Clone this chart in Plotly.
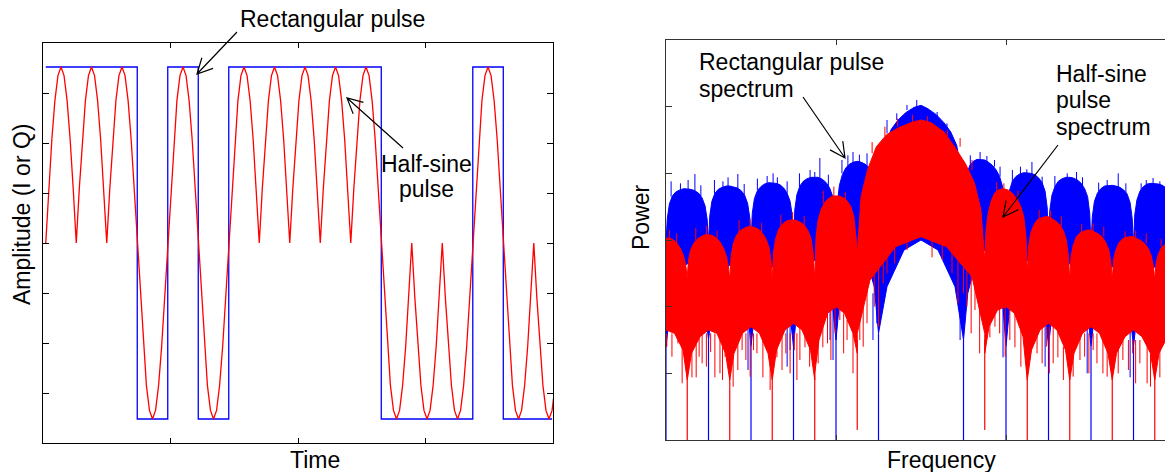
import math
import plotly.graph_objects as go

W, H = 1165, 472

# ---------------- left panel: baseband waveforms ----------------
bits = [1, 1, 1, -1, 1, -1, 1, 1, 1, 1, 1, -1, -1, -1, 1, -1, -1]
pulse_amplitude = 0.88
half_sine_samples = [0.0, 0.309, 0.588, 0.809, 0.951, 1.0, 0.951, 0.809, 0.588, 0.309, 0.0]
record_end = 16.6
time_range = [-0.09, 16.63]
amp_range = [-1.0, 1.0]
amp_ticks = [-1.0, -0.75, -0.5, -0.25, 0.0, 0.25, 0.5, 0.75, 1.0]

# ---------------- right panel: power spectra (dB) ----------------
freq_range = [-6.0, 5.741]
freq_ticks = [-6, -2, 2, 6]
power_range = [-60, 0]
power_ticks = [-60, -50, -40, -30, -20, -10, 0]

upper_frac = [0.0, 0.03, 0.08, 0.15, 0.23, 0.32, 0.42, 0.5, 0.58, 0.68, 0.77, 0.85, 0.92, 0.97, 1.0]
lower_frac = [0.0, 0.1, 0.3, 0.5, 0.7, 0.9, 1.0]

# rectangular-pulse spectrum: lobe envelopes
rect_lobe_edges = [-6, -5, -4, -3, -2, -1, 1, 2, 3, 4, 5, 6]
rect_lobe_upper = [
    [-30.5, -26.8, -24.6, -23.4, -22.8, -22.5, -22.3, -22.3, -22.4, -22.6, -23.0, -23.7, -24.9, -27.0, -30.5],
    [-30.5, -26.4, -24.2, -23.0, -22.4, -22.1, -21.9, -21.9, -22.0, -22.2, -22.6, -23.3, -24.5, -26.6, -30.8],
    [-30.8, -26.0, -23.8, -22.6, -22.0, -21.6, -21.4, -21.4, -21.5, -21.7, -22.2, -23.0, -24.2, -26.3, -31.0],
    [-31.0, -25.5, -23.2, -21.9, -21.2, -20.8, -20.6, -20.6, -20.6, -20.9, -21.4, -22.2, -23.4, -25.6, -31.0],
    [-31.0, -24.6, -21.8, -20.2, -19.2, -18.6, -18.3, -18.2, -18.3, -18.6, -19.1, -19.9, -21.2, -24.0, -30.0],
    [-28.0, -19.5, -15.6, -13.4, -12.0, -10.9, -10.1, -9.8, -10.3, -11.2, -12.4, -13.8, -15.8, -19.5, -28.0],
    [-29.5, -22.6, -20.0, -18.8, -18.2, -17.9, -17.9, -18.0, -18.3, -18.8, -19.5, -20.5, -22.0, -25.0, -30.5],
    [-30.5, -25.0, -22.6, -21.2, -20.5, -20.1, -19.9, -19.9, -20.0, -20.2, -20.7, -21.4, -22.7, -25.2, -30.8],
    [-30.8, -25.6, -23.3, -22.0, -21.2, -20.8, -20.6, -20.6, -20.7, -21.0, -21.5, -22.3, -23.5, -26.0, -31.0],
    [-31.0, -26.6, -24.2, -23.0, -22.3, -21.9, -21.8, -21.8, -21.9, -22.1, -22.5, -23.1, -24.4, -26.8, -31.0],
    [-31.0, -26.2, -24.0, -22.7, -22.0, -21.6, -21.5, -21.5, -21.6, -21.8, -22.2, -22.9, -24.0, -26.5, -30.5],
]
rect_lobe_lower = [
    [-46, -40, -35, -33.5, -35, -39, -45],
    [-45, -39.5, -35, -33.8, -34.5, -39, -46],
    [-46, -40, -35.5, -34, -35, -40, -46],
    [-46, -39, -34.5, -33, -34, -38.5, -45],
    [-45, -38, -33, -31.5, -32.5, -37, -44],
    [-44, -37, -31.5, -30, -31.5, -37, -45],
    [-45, -38, -33, -31.5, -33, -37.5, -46],
    [-46, -39, -34.5, -33, -34.5, -39, -46],
    [-46, -40, -35, -33.5, -35, -39.5, -46],
    [-46, -40, -35, -34, -35, -40, -46],
    [-46, -40, -35.5, -34, -35, -40, -46],
]
rect_null_freq = [-6, -5, -4, -3, -2, -1, 1, 2, 3, 4, 5]
rect_null_top = [-44, -45, -46, -45, -44, -44, -45, -46, -46, -46, -46]
rect_null_floor = [-60, -60, -60, -60, -60, -60, -60, -60, -60, -60, -60]
# narrow peaks rising above the envelope
rect_peak_freq = [-5.88, -5.66, -5.48, -5.32, -5.18, -4.86, -4.66, -4.54, -4.31, -4.16,
                  -3.85, -3.62, -3.48, -3.38, -3.15, -2.86, -2.61, -2.50, -2.38, -2.18,
                  -1.86, -1.72, -1.60, -1.45, -1.27, -0.80, -0.57, -0.33, -0.10, 0.14, 0.38, 0.61,
                  1.16, 1.39, 1.55, 1.73, 1.86, 2.15, 2.34, 2.49, 2.61, 2.85,
                  3.15, 3.44, 3.66, 3.80, 4.18, 4.38, 4.64, 4.82, 5.18, 5.30, 5.46, 5.62]
rect_peak_base = [-23.5, -23.0, -23.0, -23.0, -23.5, -23.0, -22.5, -22.5, -22.5, -23.5,
                  -22.5, -22.0, -22.0, -22.0, -23.0, -22.0, -21.0, -21.0, -21.0, -22.0,
                  -20.0, -19.0, -18.5, -18.5, -19.5, -14.0, -12.0, -10.5, -10.0, -10.5, -12.0, -13.5,
                  -19.5, -18.5, -18.5, -19.0, -20.5, -21.5, -20.5, -20.5, -20.5, -22.0,
                  -22.0, -21.0, -21.0, -22.0, -23.0, -22.3, -22.3, -23.0, -22.8, -22.0, -22.0, -22.5]
rect_peak_tip = [-21.2, -21.5, -21.0, -20.1, -21.8, -21.0, -21.2, -20.6, -20.1, -21.6,
                 -20.8, -20.4, -20.0, -20.6, -21.2, -20.0, -19.5, -19.8, -17.7, -20.2,
                 -18.0, -17.3, -16.8, -17.2, -17.0, -12.0, -11.0, -9.75, -9.0, -10.2, -10.8, -12.5,
                 -17.3, -16.8, -17.4, -18.0, -19.0, -19.5, -19.0, -19.4, -18.3, -20.5,
                 -20.4, -20.0, -19.8, -20.6, -21.4, -21.0, -20.0, -21.5, -21.5, -21.0, -20.7, -21.2]
# deep narrow dips below the envelope
rect_dip_freq = [-5.98, -4.28, -4.07, -3.15, -3.08, -2.14, -2.07, -1.13, -1.04, 0.92, 1.93, 2.92, 3.91, 4.92]
rect_dip_top = [-40, -36, -40, -40, -38, -38, -40, -38, -38, -38, -40, -40, -40, -40]
rect_dip_floor = [-44.6, -43.5, -49.5, -49.0, -46.5, -45.0, -48.0, -45.0, -42.5, -45.0, -47.6, -49.0, -50.0, -50.6]

# half-sine-pulse spectrum: lobe envelopes
hs_lobe_edges = [-6.5, -5.5, -4.5, -3.5, -2.5, -1.5, 1.5, 2.5, 3.5, 4.5, 5.5, 6.5]
hs_lobe_upper = [
    [-36.0, -33.5, -32.0, -31.0, -30.4, -30.0, -29.8, -29.7, -29.7, -30.0, -30.6, -31.4, -32.5, -34.0, -36.0],
    [-35.5, -33.0, -31.5, -30.5, -29.9, -29.5, -29.2, -29.2, -29.3, -29.7, -30.3, -31.2, -32.4, -34.0, -36.0],
    [-36.0, -32.5, -30.6, -29.4, -28.7, -28.3, -28.0, -28.0, -28.1, -28.4, -29.0, -29.8, -31.0, -33.0, -36.0],
    [-36.0, -31.8, -29.8, -28.4, -27.7, -27.2, -27.0, -27.0, -27.1, -27.4, -27.9, -28.7, -30.0, -32.5, -36.0],
    [-36.0, -29.5, -27.0, -25.4, -24.4, -23.8, -23.4, -23.4, -23.4, -23.7, -24.2, -25.0, -26.5, -29.5, -32.0],
    [-32.0, -23.5, -19.5, -16.0, -14.2, -13.2, -12.4, -12.0, -12.4, -13.8, -16.2, -18.6, -21.5, -25.5, -32.0],
    [-33.0, -28.5, -26.0, -24.2, -23.0, -22.5, -22.3, -22.4, -22.6, -23.2, -24.0, -25.0, -26.6, -29.5, -35.0],
    [-35.0, -31.0, -29.0, -27.8, -27.0, -26.7, -26.5, -26.5, -26.8, -27.2, -27.8, -28.6, -30.0, -32.5, -36.0],
    [-36.0, -32.5, -30.8, -29.6, -29.0, -28.7, -28.5, -28.5, -28.8, -29.1, -29.6, -30.4, -31.5, -33.5, -36.0],
    [-36.0, -33.0, -31.6, -30.5, -29.9, -29.6, -29.5, -29.5, -29.8, -30.1, -30.6, -31.3, -32.4, -34.0, -36.0],
    [-36.0, -33.5, -32.2, -31.2, -30.7, -30.5, -30.4, -30.5, -30.8, -31.2, -31.8, -32.5, -33.5, -35.0, -36.5],
]
hs_lobe_lower = [
    [-51, -47.0, -44.5, -43.5, -44.0, -46.5, -51],
    [-51, -47.0, -44.5, -43.5, -44.0, -47.0, -51],
    [-51, -47.0, -44.0, -43.0, -44.0, -47.0, -51],
    [-51, -46.5, -43.5, -42.5, -43.5, -46.5, -51],
    [-50, -45.0, -41.0, -40.0, -41.0, -44.0, -47],
    [-44, -36.0, -31.0, -29.5, -31.0, -35.5, -44],
    [-47, -43.0, -40.5, -40.0, -41.0, -44.5, -51],
    [-51, -46.5, -43.5, -42.5, -43.5, -46.5, -51],
    [-51, -47.0, -44.0, -43.0, -44.0, -47.0, -51],
    [-51, -47.0, -44.5, -43.5, -44.5, -47.0, -51],
    [-51, -47.0, -44.5, -43.5, -44.5, -47.0, -51],
]
hs_null_freq = [-5.5, -4.5, -3.5, -2.5, -1.5, 1.5, 2.5, 3.5, 4.5, 5.5]
hs_null_top = [-49, -49, -49, -49, -45, -45, -49, -49, -49, -49]
hs_null_floor = [-60, -60, -60, -60, -58.5, -58.5, -60, -60, -60, -60]
hs_peak_freq = [-5.92, -5.75, -5.30, -5.05, -4.80, -4.28, -4.02, -3.75, -3.30, -3.02, -2.75,
                -2.30, -2.05, -1.78, -1.15, -0.85, -0.55, -0.20, 0.15, 0.62, 0.92, 1.20,
                1.78, 1.95, 2.28, 2.78, 3.05, 3.30, 3.78, 4.05, 4.30, 4.80, 5.05, 5.30, 5.65]
hs_peak_base = [-30.5, -31.0, -30.0, -29.5, -30.0, -29.0, -28.5, -29.0, -28.0, -27.5, -28.0,
                -24.5, -24.0, -24.5, -17.0, -14.5, -13.0, -12.5, -12.5, -14.5, -16.0, -19.5,
                -23.5, -23.0, -24.0, -27.5, -27.0, -28.0, -29.5, -29.0, -29.5, -30.5, -30.0, -30.5, -31.0]
hs_peak_tip = [-28.5, -29.0, -28.2, -27.8, -28.6, -27.0, -26.8, -27.4, -26.2, -25.8, -26.4,
               -22.6, -22.0, -22.8, -15.3, -13.0, -11.8, -11.2, -11.4, -13.5, -14.7, -18.0,
               -21.3, -21.5, -22.6, -25.5, -25.6, -26.4, -27.6, -27.5, -28.0, -28.7, -28.6, -29.0, -29.8]
hs_dip_freq = [-5.98, -5.86, -5.72, -5.62, -5.39, -5.29, -5.22, -5.15, -5.05, -4.95, -4.85, -4.73, -4.67, -4.61,
               -4.42, -4.31, -4.21, -4.12, -4.02, -3.94, -3.86, -3.72, -3.62, -3.55,
               -3.39, -3.27, -3.18, -3.08, -2.98, -2.92, -2.85, -2.73, -2.62,
               -2.42, -2.31, -2.20, -2.12, -2.02, -1.91, -1.82, -1.74, -1.60,
               -1.44, -1.36, -1.27, -1.10, -1.00, -0.89, -0.80, -0.62, -0.33, 0.26, 0.50, 0.73, 0.87, 1.00,
               1.08, 1.18, 1.27, 1.38,
               1.62, 1.74, 1.85, 1.98, 2.09, 2.21, 2.35,
               2.64, 2.73, 2.85, 2.95, 3.02, 3.11, 3.22, 3.35,
               3.58, 3.74, 3.85, 3.95, 4.05, 4.14, 4.28, 4.38,
               4.64, 4.75, 4.88, 4.98, 5.05, 5.15, 5.32, 5.40, 5.62]
hs_dip_top = [-44, -44, -44, -46, -44, -44, -44, -44, -44, -44, -44, -44, -45, -45,
              -46, -44, -44, -44, -44, -44, -44, -43, -44, -46,
              -44, -44, -44, -44, -44, -44, -43, -43, -45,
              -42, -41, -41, -40, -40, -40, -41, -42, -44,
              -38, -38, -34, -33, -32, -32, -31, -30, -29, -29, -30, -31, -33, -33,
              -34, -35, -37, -38,
              -42, -41, -40, -40, -40, -40, -43,
              -43, -43, -43, -43, -43, -43, -43, -46,
              -46, -44, -44, -44, -44, -44, -44, -46,
              -46, -45, -45, -45, -45, -45, -46, -47, -46]
hs_dip_floor = [-46.0, -47.5, -45.5, -51.5, -50.6, -50.6, -47.5, -48.5, -49.0, -46.8, -50.6, -50.0, -51.0, -47.5,
                -52.0, -49.5, -46.5, -48.0, -50.5, -46.5, -47.0, -50.6, -46.1, -52.5,
                -47.6, -49.5, -47.0, -50.0, -46.5, -51.0, -48.0, -46.1, -49.0,
                -48.5, -46.1, -45.5, -48.0, -44.0, -42.0, -47.0, -45.0, -50.0,
                -45.0, -46.0, -42.5, -40.0, -43.0, -36.5, -35.0, -33.5, -31.5, -32.6, -33.0, -35.0, -39.5, -38.0,
                -40.0, -44.0, -40.5, -47.0,
                -44.6, -43.0, -44.0, -47.5, -45.0, -46.1, -49.0,
                -45.5, -47.0, -48.5, -46.0, -50.0, -48.5, -47.6, -51.0,
                -50.5, -48.0, -47.5, -50.0, -46.5, -48.5, -50.0, -50.5,
                -50.0, -48.0, -49.5, -47.0, -51.5, -48.5, -51.5, -52.0, -50.6]

BLUE = "#0000ff"
RED = "#ff0000"
FONT = dict(family="Liberation Sans, Arial, sans-serif", size=23, color="black")

# ---------------- build traces ----------------
rect_t = list(range(len(bits))) + [record_end]
rect_v = [b * pulse_amplitude for b in bits] + [bits[-1] * pulse_amplitude]
n_seg = len(half_sine_samples) - 1
hs_t, hs_v = [], []
for k, b in enumerate(bits):
    for j, s in enumerate(half_sine_samples):
        hs_t.append(k + j / n_seg)
        hs_v.append(b * pulse_amplitude * s)


def lobe_polygon(edges, upper, lower):
    ux, uy, lx, ly = [], [], [], []
    for i in range(len(edges) - 1):
        lo, hi = edges[i], edges[i + 1]
        ux += [lo + f * (hi - lo) for f in upper_frac]
        uy += upper[i]
        lx += [lo + f * (hi - lo) for f in lower_frac]
        ly += lower[i]
    return ux + lx[::-1] + [ux[0]], uy + ly[::-1] + [uy[0]]


def segments(xs, tops, floors):
    x, y = [], []
    for a, t, f in zip(xs, tops, floors):
        x += [a, a, None]
        y += [t, f, None]
    return x, y


fig = go.Figure()
fig.add_trace(go.Scatter(x=rect_t, y=rect_v, mode="lines", line=dict(color=BLUE, width=1.3, shape="hv"),
                         xaxis="x", yaxis="y", hoverinfo="skip"))
fig.add_trace(go.Scatter(x=hs_t, y=hs_v, mode="lines", line=dict(color=RED, width=1.3),
                         xaxis="x", yaxis="y", hoverinfo="skip"))

for edges, up, low, nf, nt, nb, pf, pb, pt, df, dt, db, col in [
    (rect_lobe_edges, rect_lobe_upper, rect_lobe_lower, rect_null_freq, rect_null_top, rect_null_floor,
     rect_peak_freq, rect_peak_base, rect_peak_tip, rect_dip_freq, rect_dip_top, rect_dip_floor, BLUE),
    (hs_lobe_edges, hs_lobe_upper, hs_lobe_lower, hs_null_freq, hs_null_top, hs_null_floor,
     hs_peak_freq, hs_peak_base, hs_peak_tip, hs_dip_freq, hs_dip_top, hs_dip_floor, RED),
]:
    px_, py_ = lobe_polygon(edges, up, low)
    fig.add_trace(go.Scatter(x=px_, y=py_, mode="lines", fill="toself", fillcolor=col,
                             line=dict(color=col, width=1), xaxis="x2", yaxis="y2", hoverinfo="skip"))
    for xs, ts, fs, wdt in [(nf, nt, nb, 1.2), (pf, pb, pt, 1.0), (df, dt, db, 1.0)]:
        sx, sy = segments(xs, ts, fs)
        fig.add_trace(go.Scatter(x=sx, y=sy, mode="lines", line=dict(color=col, width=wdt),
                                 xaxis="x2", yaxis="y2", hoverinfo="skip"))


def paper(x, y):
    return x / W, 1 - y / H


def xdom(a, b):
    return [a / W, min(b / W, 1.0)]


def ydom(top, bottom):
    return [1 - bottom / H, 1 - top / H]


left_tickvals = [time_range[0] + i * (time_range[1] - time_range[0]) / 4 for i in range(5)]

axis_common = dict(showgrid=False, zeroline=False, showticklabels=False, ticks="inside",
                   showline=True, linewidth=1)

fig.update_layout(
    width=W, height=H, margin=dict(l=0, r=0, t=0, b=0),
    paper_bgcolor="white", plot_bgcolor="white", showlegend=False,
    xaxis=dict(domain=xdom(43, 553), range=time_range, tickvals=left_tickvals, ticklen=5,
               linecolor="black", tickcolor="black", mirror="ticks", anchor="y", **axis_common),
    yaxis=dict(domain=ydom(43, 443), range=amp_range, tickvals=amp_ticks, ticklen=6,
               linecolor="black", tickcolor="black", mirror="ticks", anchor="x", **axis_common),
    xaxis2=dict(domain=xdom(666, 1165), range=freq_range, tickvals=freq_ticks, ticklen=5,
                linecolor="#333333", tickcolor="#333333", mirror="ticks", anchor="y2", **axis_common),
    yaxis2=dict(domain=ydom(40, 440), range=power_range, tickvals=power_ticks, ticklen=6,
                linecolor="#333333", tickcolor="#333333", mirror=False, anchor="x2", **axis_common),
)

anns = []
for text, x, y, anchor in [
    ("Rectangular pulse", 332, 19, "center"),
    ("Half-sine", 426.5, 164, "center"),
    ("pulse", 426, 189, "center"),
    ("Rectangular pulse", 698, 62, "left"),
    ("spectrum", 698, 89, "left"),
    ("Half-sine", 1055, 74, "left"),
    ("pulse", 1055, 100, "left"),
    ("spectrum", 1055, 127, "left"),
    ("Time", 315, 460, "center"),
    ("Frequency", 941, 460, "center"),
]:
    xx, yy = paper(x, y)
    anns.append(dict(text=text, x=xx, y=yy, xref="paper", yref="paper", xanchor=anchor, yanchor="middle",
                     showarrow=False, font=FONT, borderpad=0))
for text, x, y in [("Amplitude (I or Q)", 22, 214), ("Power", 641, 217)]:
    xx, yy = paper(x, y)
    anns.append(dict(text=text, x=xx, y=yy, xref="paper", yref="paper", xanchor="center", yanchor="middle",
                     showarrow=False, font=FONT, textangle=-90, borderpad=0))
fig.update_layout(annotations=anns)

shapes = []
for tx, ty, hx, hy in [(237, 32, 197, 74), (403, 148, 347, 98), (803, 97, 845, 158), (1058, 145, 1003, 217)]:
    dx, dy = tx - hx, ty - hy
    n = math.hypot(dx, dy)
    dx, dy = dx / n, dy / n
    arms = []
    for ang in (math.radians(27), math.radians(-27)):
        rx = dx * math.cos(ang) - dy * math.sin(ang)
        ry = dx * math.sin(ang) + dy * math.cos(ang)
        arms.append((hx + 17 * rx, hy + 17 * ry))
    p = [paper(tx, ty), paper(hx, hy), paper(*arms[0]), paper(*arms[1])]
    path = (f"M {p[0][0]},{p[0][1]} L {p[1][0]},{p[1][1]} "
            f"M {p[2][0]},{p[2][1]} L {p[1][0]},{p[1][1]} L {p[3][0]},{p[3][1]}")
    shapes.append(dict(type="path", path=path, xref="paper", yref="paper",
                       line=dict(color="black", width=1.2)))
fig.update_layout(shapes=shapes)

fig.write_html("out.html")
